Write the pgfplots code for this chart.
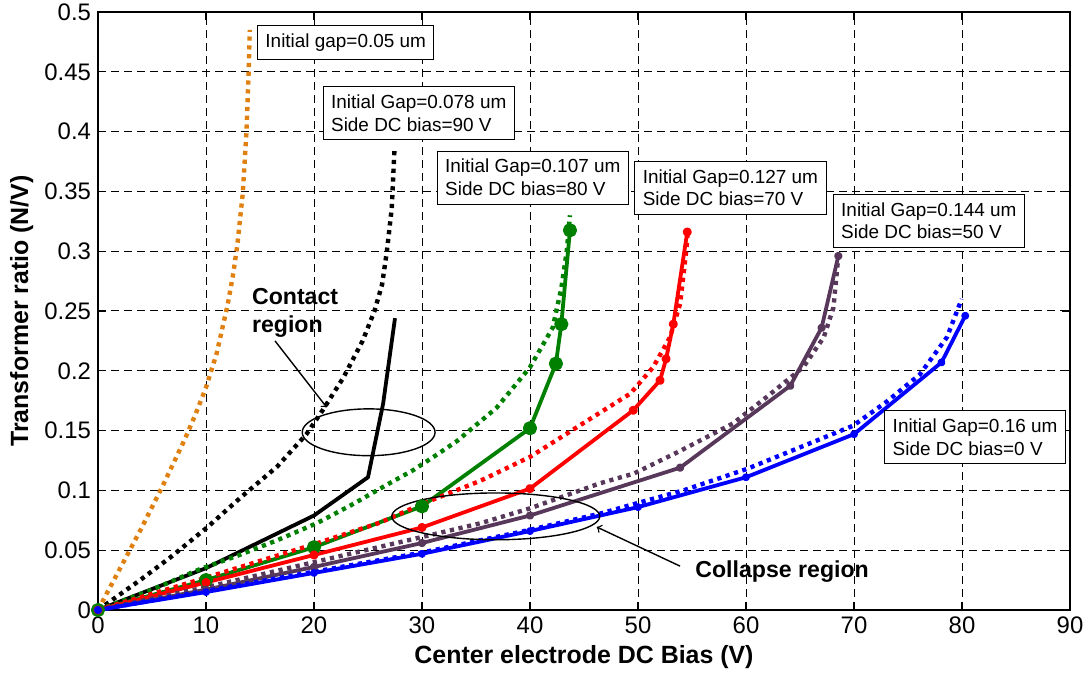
\documentclass[border=0pt]{standalone}
\usepackage{pgfplots}
\pgfplotsset{compat=1.18}
\usepackage{fontspec}
\setmainfont{Liberation Sans}
\definecolor{morange}{RGB}{224,128,16}
\definecolor{mgreen}{RGB}{0,128,0}
\definecolor{mpurple}{RGB}{88,56,90}
\begin{document}
\begin{tikzpicture}
\useasboundingbox (-49bp,-31.5bp) rectangle (496.5bp,305bp);
\begin{axis}[
  at={(0,0)}, anchor=south west,
  width=486bp, height=299bp, scale only axis,
  xmin=0, xmax=90, ymin=0, ymax=0.5,
  xtick={0,10,20,30,40,50,60,70,80,90},
  ytick={0,0.05,0.1,0.15,0.2,0.25,0.3,0.35,0.4,0.45,0.5},
  scaled y ticks=false,
  yticklabel style={/pgf/number format/.cd,fixed,precision=2},
  /pgf/number format/assume math mode=true,
  ticklabel style={font=\fontsize{12}{12}\selectfont},
  tick align=inside, tick pos=both,
  major tick length=4bp,
  every tick/.style={black, line width=0.6bp},
  axis line style={line width=0.8bp},
  grid=major,
  major grid style={black, line width=0.5bp, dash pattern=on 4bp off 2.5bp},
  xlabel={\bfseries Center electrode DC Bias (V)},
  ylabel={\bfseries Transformer ratio (N/V)},
  label style={font=\fontsize{12.5}{14}\selectfont},
  xlabel style={at={(axis description cs:0.5,-0.0786)}, anchor=center},
  ylabel style={at={(axis description cs:-0.0785,0.5)}, anchor=center},
  clip=false,
  dotl/.style={line width=2.2bp, dash pattern=on 2.1bp off 2.3bp, no markers},
  soll/.style={line width=1.9bp, line join=round},
]
% gap 0.05 (orange dotted)
\addplot[dotl, morange] coordinates {
(0,0) (1,0.017) (2,0.034) (3,0.051) (4,0.068) (5,0.086) (6,0.104) (7,0.123)
(8,0.142) (9,0.163) (10,0.186) (11,0.215) (12,0.255) (12.5,0.28) (12.9,0.305)
(13.4,0.348) (13.75,0.4) (13.95,0.45) (14.05,0.485)};
% gap 0.078
\addplot[dotl, black] coordinates {
(0,0) (3.9,0.025) (6.7,0.044) (10.1,0.069) (13.2,0.094) (16.6,0.12) (19.3,0.147)
(20.8,0.167) (22.7,0.194) (24.5,0.225) (25.6,0.25) (26.3,0.272) (26.75,0.3)
(27.2,0.336) (27.45,0.385)};
\addplot[soll, black, no markers] coordinates {
(0,0) (10,0.035) (20,0.079) (25,0.111) (26.4,0.1725) (27.5,0.244)};
% gap 0.107
\addplot[dotl, mgreen] coordinates {
(0,0) (5,0.017) (9.4,0.034) (13.1,0.046) (16.5,0.058) (20.25,0.0725) (23.5,0.088)
(27,0.106) (29.2,0.117) (31.4,0.13) (33.2,0.141) (36.9,0.169) (40,0.203)
(42.1,0.236) (42.9,0.269) (43.4,0.3) (43.7,0.33)};
\addplot[soll, mgreen, mark=*, mark size=2.6bp, mark options={solid}] coordinates {
(0,0) (10,0.025) (20,0.0525) (30,0.0867) (40,0.152) (42.4,0.206) (42.9,0.239) (43.7,0.3175)};
% gap 0.127
\addplot[dotl, red] coordinates {
(0,0) (10,0.027) (20,0.055) (26.1,0.073) (30.1,0.089) (35.4,0.108) (40,0.128)
(45.25,0.158) (49.3,0.181) (51.4,0.203) (52.96,0.228) (53.9,0.256) (54.5,0.303) (54.6,0.316)};
\addplot[soll, red, mark=*, mark size=1.3bp, mark options={solid}] coordinates {
(0,0) (10,0.023) (20,0.046) (30,0.069) (40,0.1015) (49.56,0.167) (52.04,0.192)
(52.6,0.21) (53.27,0.239) (54.56,0.316)};
% gap 0.144
\addplot[dotl, mpurple] coordinates {
(0,0) (10,0.019) (20,0.04) (30,0.061) (35.4,0.0725) (40,0.085) (46.5,0.106)
(49.6,0.114) (53.9,0.133) (58.8,0.156) (61.9,0.178) (65.3,0.203) (67.2,0.228)
(68.1,0.253) (68.55,0.296)};
\addplot[soll, mpurple, mark=*, mark size=1.1bp, mark options={solid}] coordinates {
(0,0) (10,0.017) (20,0.036) (30,0.056) (40,0.079) (53.9,0.119) (64.1,0.1875)
(67,0.236) (68.55,0.296)};
% gap 0.16
\addplot[dotl, blue] coordinates {
(0,0) (10,0.016) (20,0.032) (30,0.048) (40,0.067) (46.5,0.0806) (50.2,0.09)
(54.2,0.1) (60.1,0.118) (65,0.136) (69.9,0.154) (73,0.174) (76.1,0.197)
(78.6,0.228) (79.97,0.26)};
\addplot[soll, blue, mark=*, mark size=1bp, mark options={solid}] coordinates {
(0,0) (10,0.015) (20,0.031) (30,0.047) (40,0.066) (50,0.086) (60,0.111)
(70,0.147) (78.1,0.207) (80.3,0.246)};

% annotations
\tikzset{gbox/.style={draw=black, line width=0.5bp, fill=white, anchor=north west,
  align=left, font=\fontsize{9.5}{11.5}\selectfont, inner xsep=4bp, inner ysep=4bp}}
\node[gbox] at (axis cs:14.72,0.489) {Initial gap=0.05 um};
\node[gbox] at (axis cs:20.8,0.438) {Initial Gap=0.078 um\\Side DC bias=90 V};
\node[gbox] at (axis cs:31.36,0.384) {Initial Gap=0.107 um\\Side DC bias=80 V};
\node[gbox] at (axis cs:49.66,0.3756) {Initial Gap=0.127 um\\Side DC bias=70 V};
\node[gbox] at (axis cs:68.03,0.348) {Initial Gap=0.144 um\\Side DC bias=50 V};
\node[gbox] at (axis cs:72.8,0.1672) {Initial Gap=0.16 um\\Side DC bias=0 V};

\draw[line width=0.7bp] (axis cs:25.06,0.1486) ellipse [x radius=33.2bp, y radius=11.7bp];
\draw[line width=0.7bp] (axis cs:36.83,0.0783) ellipse [x radius=52bp, y radius=11.7bp];
\node[anchor=north west, inner sep=0pt, align=left, font=\fontsize{11.6}{14}\selectfont\bfseries]
  at (axis cs:14.23,0.2694) {Contact\\region};
\node[anchor=north west, inner sep=0pt, font=\fontsize{11.6}{14}\selectfont\bfseries]
  at (axis cs:55.28,0.0417) {Collapse region};
\draw[->, line width=0.7bp] (axis cs:16.39,0.225) -- (axis cs:21.18,0.1694);
\draw[->, line width=0.7bp] (axis cs:53.89,0.0367) -- (axis cs:46.18,0.0694);
\end{axis}
\end{tikzpicture}
\end{document}
